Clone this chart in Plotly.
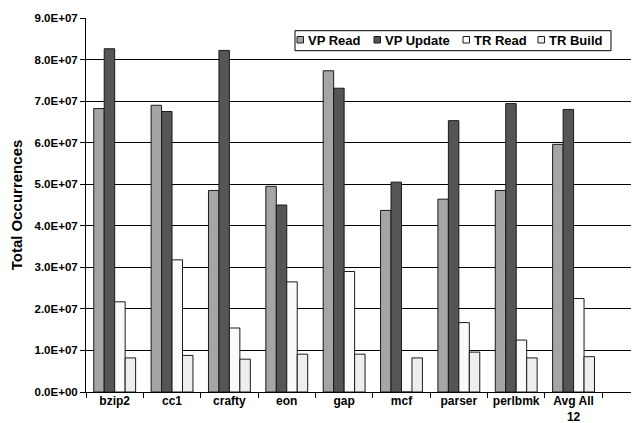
import plotly.graph_objects as go

# benchmarks on the x axis
benchmarks = ['bzip2', 'cc1', 'crafty', 'eon', 'gap', 'mcf', 'parser', 'perlbmk', 'Avg All<br>12']

# values
vp_read = [6.82e7, 6.90e7, 4.85e7, 4.95e7, 7.73e7, 4.37e7, 4.64e7, 4.85e7, 5.96e7]
vp_update = [8.26e7, 6.75e7, 8.22e7, 4.50e7, 7.31e7, 5.05e7, 6.53e7, 6.94e7, 6.80e7]
tr_read = [2.17e7, 3.18e7, 1.54e7, 2.65e7, 2.90e7, 0, 1.67e7, 1.25e7, 2.25e7]
tr_build = [0.82e7, 0.88e7, 0.79e7, 0.91e7, 0.91e7, 0.82e7, 0.96e7, 0.82e7, 0.85e7]

y_ticks = [0, 1e7, 2e7, 3e7, 4e7, 5e7, 6e7, 7e7, 8e7, 9e7]
y_ticktext = ['0.0E+00', '1.0E+07', '2.0E+07', '3.0E+07', '4.0E+07',
              '5.0E+07', '6.0E+07', '7.0E+07', '8.0E+07', '9.0E+07']

series = [
    ('VP Read', vp_read, '#a5a5a5'),
    ('VP Update', vp_update, '#555555'),
    ('TR Read', tr_read, '#fafafa'),
    ('TR Build', tr_build, '#eeeeee'),
]

FONT = 'Arial, "Liberation Sans", sans-serif'
W, H = 639, 423
M_L, M_R, M_T, M_B = 78, 0, 10, 39
PW, PH = W - M_L - M_R, H - M_T - M_B


def px_x(x):
    return (x - M_L) / PW


def px_y(y):
    return (H - M_B - y) / PH


fig = go.Figure()
for name, vals, color in series:
    fig.add_trace(go.Bar(
        x=benchmarks,
        y=vals,
        name=name,
        marker=dict(color=color, line=dict(color='#1a1a1a', width=1)),
    ))

# legend drawn by hand so it stays as compact as the original (Excel-style)
shapes = [dict(type='rect', xref='paper', yref='paper',
               x0=px_x(287), x1=px_x(603), y0=px_y(42.7), y1=px_y(22.7),
               line=dict(color='black', width=1), fillcolor='white', layer='above')]
annotations = []
leg_marker_x = [289, 366, 455, 530]
for (name, _, color), mx in zip(series, leg_marker_x):
    shapes.append(dict(type='rect', xref='paper', yref='paper',
                       x0=px_x(mx), x1=px_x(mx + 6.5), y0=px_y(35), y1=px_y(28.5),
                       line=dict(color='#1a1a1a', width=1), fillcolor=color, layer='above'))
    annotations.append(dict(text=name, xref='paper', yref='paper',
                            x=px_x(mx + 9), y=px_y(32.3), xanchor='left', yanchor='middle',
                            showarrow=False, font=dict(size=13, weight='bold')))

fig.update_layout(
    width=W,
    height=H,
    barmode='group',
    bargap=0.27,
    bargroupgap=0,
    plot_bgcolor='white',
    paper_bgcolor='white',
    font=dict(family=FONT, size=12, color='black', weight='bold'),
    margin=dict(l=M_L, r=M_R, t=M_T, b=M_B),
    showlegend=False,
    shapes=shapes,
    annotations=annotations,
)

fig.update_xaxes(
    type='category',
    range=[-0.5, 9.28],
    showline=True,
    linecolor='black',
    linewidth=1,
    ticks='outside',
    tickson='boundaries',
    ticklen=5,
    tickcolor='black',
    showgrid=False,
    automargin=False,
    tickfont=dict(size=12, weight='bold'),
    ticklabelstandoff=-2,
)

fig.update_yaxes(
    range=[0, 9e7],
    tickvals=y_ticks,
    ticktext=y_ticktext,
    showline=True,
    linecolor='black',
    linewidth=1,
    ticks='outside',
    ticklen=5,
    tickcolor='black',
    showgrid=True,
    gridcolor='black',
    gridwidth=1,
    zeroline=False,
    automargin=False,
    tickfont=dict(size=11.5, weight='bold'),
    title=dict(text='Total Occurrences', font=dict(size=15, weight='bold'), standoff=10),
)

fig.write_html('out.html')
